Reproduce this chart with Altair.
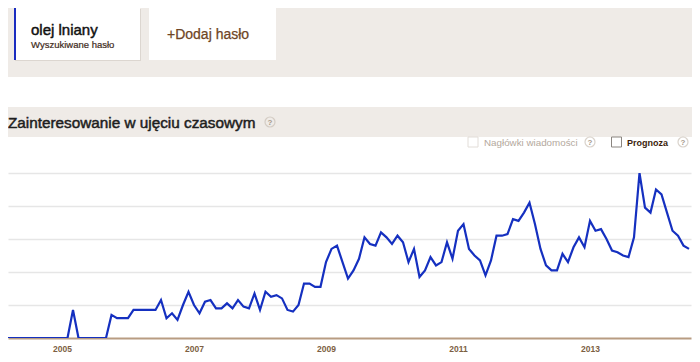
import altair as alt
import pandas as pd

# ---- data -------------------------------------------------------------
start_month = "2004-01-01"
interest = [
    0, 0, 0, 0, 0, 0, 0, 0, 0, 0, 0, 0,          # 2004
    0, 0, 17, 0, 0, 0, 0, 0, 0, 14, 12, 12,       # 2005
    12, 17, 17, 17, 17, 17, 23, 12, 15, 11, 20, 28,  # 2006
    20, 15, 22, 23, 18, 18, 21, 18, 23, 19, 18, 27,  # 2007
    17, 28, 25, 26, 24, 17, 16, 20, 33, 33, 31, 31,  # 2008
    46, 54, 56, 46, 36, 41, 48, 61, 57, 56, 64, 61,  # 2009
    57, 62, 58, 46, 54, 37, 41, 49, 44, 46, 58, 48,  # 2010
    65, 69, 54, 50, 47, 38, 47, 62, 62, 63, 72, 71,  # 2011
    76, 82, 69, 54, 44, 41, 41, 51, 46, 55, 61, 55,  # 2012
    71, 65, 66, 60, 53, 52, 50, 49, 61, 100, 79, 76,  # 2013
    90, 87, 76, 65, 62, 56, 54,                       # 2014
]
year_ticks = [2005, 2007, 2009, 2011, 2013]
search_term = "olej lniany"
term_caption = "Wyszukiwane hasło"
add_term = "+Dodaj hasło"
section_title = "Zainteresowanie w ujęciu czasowym"
news_label = "Nagłówki wiadomości"
forecast_label = "Prognoza"

months = pd.date_range(start_month, periods=len(interest), freq="MS")
df = pd.DataFrame({
    "t": months.year + (months.month - 1) / 12.0,
    "v": interest,
})

FONT = "Liberation Sans"
BLUE = "#1530c0"
one = pd.DataFrame({"a": [0]})


def rect(x, x2, y, y2, fill, stroke=None, sw=0):
    kw = dict(fill=fill)
    if stroke:
        kw.update(stroke=stroke, strokeWidth=sw)
    else:
        kw.update(strokeWidth=0)
    return alt.Chart(one).mark_rect(**kw).encode(
        x=alt.value(x), x2=alt.value(x2), y=alt.value(y), y2=alt.value(y2))


def text(s, x, y, size, color, weight="normal", align="left", heavy=0.0):
    kw = dict(font=FONT, fontSize=size, color=color, fontWeight=weight,
              align=align, baseline="alphabetic")
    if heavy > 0:
        kw.update(stroke=color, strokeWidth=heavy)
    return alt.Chart(one).mark_text(**kw).encode(
        x=alt.value(x), y=alt.value(y), text=alt.value(s))


def qmark(x, y):
    c = alt.Chart(one).mark_point(
        shape="circle", size=100, filled=False, stroke="#c9c0b6",
        strokeWidth=1.2).encode(x=alt.value(x), y=alt.value(y))
    t = alt.Chart(one).mark_text(
        font=FONT, fontSize=8, color="#a89a8c", fontWeight="bold",
        align="center", baseline="middle").encode(
        x=alt.value(x), y=alt.value(y + 0.5), text=alt.value("?"))
    return [c, t]


line = alt.Chart(df).mark_line(color=BLUE, strokeWidth=2.2, clip=True).encode(
    x=alt.X("t:Q", scale=alt.Scale(domain=[2004.1818, 2014.5303], nice=False, zero=False),
            axis=alt.Axis(values=year_ticks, format="d", title=None, grid=False,
                          ticks=False, domainColor="#b89c82", domainWidth=2,
                          labelFont=FONT, labelFontSize=8.5, labelFontWeight="bold",
                          labelColor="#7d5f43", labelPadding=6, labelFlush=False)),
    y=alt.Y("v:Q", scale=alt.Scale(domain=[0, 100], nice=False),
            axis=alt.Axis(values=[20, 40, 60, 80, 100], title=None, labels=False,
                          ticks=False, domain=False, grid=True,
                          gridColor="#e6e6e6", gridWidth=1.3)),
)

layers = [
    # top band with search-term cards
    rect(0, 684, -165, -96, "#efebe7"),
    rect(7, 133, -164, -112, "#dcd6d0"),
    rect(6, 132, -165, -113, "white"),
    rect(6, 8, -165, -113, "#1a2cc0"),
    text(search_term, 23, -138, 15, "#111111", heavy=0.45),
    text(term_caption, 23, -125, 9.5, "#3e2a1a", heavy=0.2),
    rect(141, 268, -165, -113, "white"),
    text(add_term, 159, -134, 14, "#6e4525", heavy=0.25),
    # section title band
    rect(0, 684, -66, -36, "#efebe7"),
    text(section_title, 0, -45, 15.3, "#1e1e1e", heavy=0.5),
    *qmark(262, -51),
    # options row
    rect(460, 470, -36, -26, "white", "#e2ddd8", 1),
    text(news_label, 476, -27, 9.8, "#b3a89d"),
    *qmark(582, -31),
    rect(603.5, 613.5, -36, -26, "white", "#8a8580", 1),
    text(forecast_label, 619, -27, 9, "#3b1d0b", weight="bold"),
    *qmark(675, -31),
    line,
]

chart = alt.layer(*layers).properties(
    width=683, height=165,
    autosize=alt.AutoSizeParams(type="none"),
    padding={"left": 0, "top": 165, "right": 1, "bottom": 14},
    background="white",
).configure_view(stroke=None)

chart.save("out.html", embed_options={"renderer": "svg", "actions": False})
